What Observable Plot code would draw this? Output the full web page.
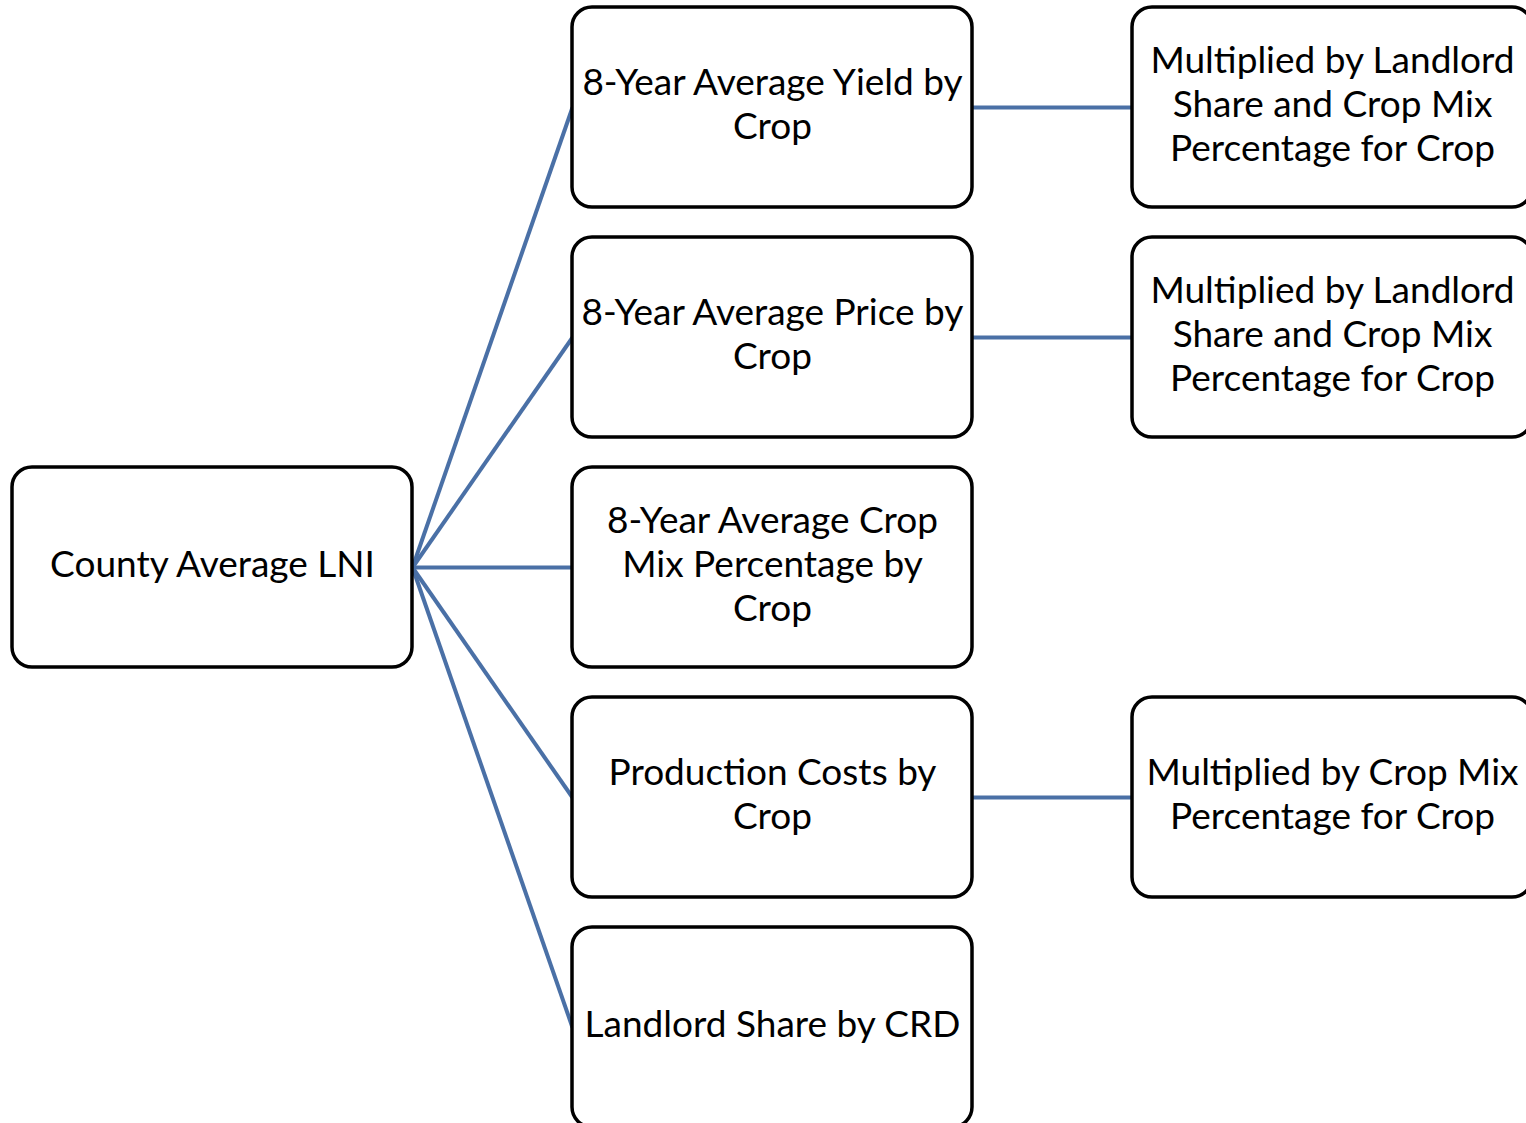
<!DOCTYPE html>
<html>
<head>
<meta charset="utf-8">
<script src="https://cdn.jsdelivr.net/npm/d3@7"></script>
<script src="https://cdn.jsdelivr.net/npm/@observablehq/plot@0.6"></script>
<style>
  html, body { margin: 0; padding: 0; background: #fff; }
  #chart svg { display: block; }
</style>
</head>
<body>
<div id="chart"></div>
<script>
// Node labels, column (level) and row of each box in the tree
const nodeIds = ["root", "yield", "price", "mix", "costs", "share", "yieldMult", "priceMult", "costsMult"];
const nodeLabels = [
  "County Average LNI",
  "8-Year Average Yield by\nCrop",
  "8-Year Average Price by\nCrop",
  "8-Year Average Crop\nMix Percentage by\nCrop",
  "Production Costs by\nCrop",
  "Landlord Share by CRD",
  "Multiplied by Landlord\nShare and Crop Mix\nPercentage for Crop",
  "Multiplied by Landlord\nShare and Crop Mix\nPercentage for Crop",
  "Multiplied by Crop Mix\nPercentage for Crop"
];
const nodeLevels = [0, 1, 1, 1, 1, 1, 2, 2, 2];
const nodeRows = [2, 0, 1, 2, 3, 4, 0, 1, 3];

// Parent -> child connections
const edgeFrom = ["root", "root", "root", "root", "root", "yield", "price", "costs"];
const edgeTo = ["yield", "price", "mix", "costs", "share", "yieldMult", "priceMult", "costsMult"];

const BOX_W = 400 / 560;   // box width in level units
const BOX_H = 200 / 230;   // box height in row units

const nodes = nodeIds.map((id, i) => ({
  id, label: nodeLabels[i], level: nodeLevels[i], row: nodeRows[i]
}));
const byId = new Map(nodes.map(d => [d.id, d]));
const edges = edgeFrom.map((f, i) => ({ from: byId.get(f), to: byId.get(edgeTo[i]) }));

const W = 1526, H = 1123;
const chart = Plot.plot({
  width: W,
  height: H,
  margin: 0,
  x: { domain: [-12 / 560, (W - 12) / 560], axis: null },
  y: { domain: [-7 / 230, (H - 7) / 230], reverse: true, axis: null },
  marks: [
    Plot.link(edges, {
      x1: d => d.from.level + BOX_W,
      y1: d => d.from.row + BOX_H / 2,
      x2: d => d.to.level,
      y2: d => d.to.row + BOX_H / 2,
      stroke: "#4a70a6",
      strokeWidth: 4
    }),
    Plot.rect(nodes, {
      x1: d => d.level,
      x2: d => d.level + BOX_W,
      y1: d => d.row,
      y2: d => d.row + BOX_H,
      fill: "white",
      stroke: "black",
      strokeWidth: 3.5,
      rx: 20
    }),
    Plot.text(nodes, {
      x: d => d.level + BOX_W / 2,
      y: d => d.row + BOX_H / 2,
      text: "label",
      fontSize: 37,
      lineHeight: 1.19,
      dy: -5,
      fill: "black",
      fontFamily: "Lato, 'Open Sans', sans-serif"
    })
  ]
});
chart.style.fontFamily = "Lato, sans-serif";
document.getElementById("chart").appendChild(chart);
</script>
</body>
</html>
